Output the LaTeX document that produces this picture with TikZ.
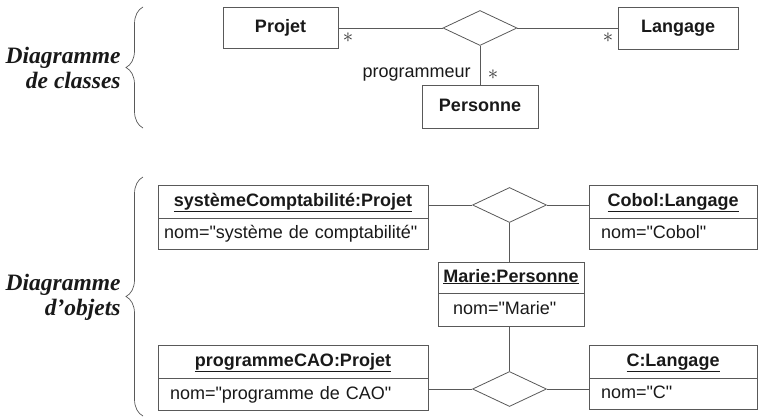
\documentclass[tikz,border=0pt]{standalone}
\usepackage{fontspec}
\setmainfont{Liberation Serif}
\setsansfont{Liberation Sans}
\usepackage{tikz}
\usetikzlibrary{shapes.geometric,decorations.pathreplacing,positioning}
\newcommand{\qq}{\textquotedbl}

\begin{document}
\begin{tikzpicture}[x=1pt,y=-1pt,line width=0.8pt,node distance=0pt]
  \tikzstyle{classe}=[draw=black!65,text=black!90,font=\sffamily\bfseries\fontsize{18}{20}\selectfont,
                      inner sep=0pt,text height=13pt,text depth=4pt]
  \tikzstyle{attribut}=[draw=black!65,text=black!90,font=\sffamily\fontsize{18}{20}\selectfont,
                        inner xsep=12pt,inner ysep=0pt,text height=13pt,text depth=4pt,align=left]
  \tikzstyle{assoc}=[draw=black!65,diamond,minimum width=74pt,minimum height=35pt,inner sep=0pt]
  \tikzstyle{lien}=[draw=black!65]
  \tikzstyle{mult}=[text=black!80,font=\fontsize{20}{20}\selectfont,inner sep=0pt]
  \tikzstyle{titre}=[text=black!90,font=\bfseries\itshape\fontsize{23.5}{25}\selectfont,align=right,inner sep=0pt]
  \tikzstyle{accolade}=[draw=black!65,line width=0.7pt,decorate,decoration={brace,amplitude=17pt}]

  \useasboundingbox (0,0) rectangle (760,418);

  % diagramme de classes
  \node[titre,anchor=east] (tclasses) at (121,68) {Diagramme\\de classes};
  \coordinate (bc1) at (143,128);
  \coordinate (bc2) at (143,7);
  \draw[accolade] (bc1) -- (bc2);

  \node[classe,minimum width=115pt,minimum height=41pt] (projet)   at (280.5,27.5) {Projet};
  \node[classe,minimum width=120pt,minimum height=42pt] (langage)  at (678,28)     {Langage};
  \node[classe,minimum width=116pt,minimum height=43pt] (personne) at (480,106.5)  {Personne};
  \node[assoc] (assocC) at (480,28) {};

  \path[lien] (assocC.west) edge (assocC.west -| projet.east)
              (assocC.east) edge (assocC.east -| langage.west)
              (assocC.south) edge (assocC.south |- personne.north);

  \node[mult] (mprojet)   at (348,38) {$\ast$};
  \node[mult] (mlangage)  at (608,38) {$\ast$};
  \node[mult] (mpersonne) at (493,75) {$\ast$};
  \node[text=black!90,font=\sffamily\fontsize{18}{20}\selectfont,inner sep=0pt,anchor=base east]
       (role) at (471,77) {programmeur};

  % diagramme d'objets
  \node[titre,anchor=east] (tobjets) at (121,297) {Diagramme\\d’objets};
  \coordinate (bo1) at (143,416);
  \coordinate (bo2) at (143,177);
  \draw[accolade] (bo1) -- (bo2);

  \node[classe,minimum width=270pt,minimum height=33pt] (sysC) at (293,201.5) {\underline{systèmeComptabilité:Projet}};
  \node[attribut,inner xsep=6pt,text width=258pt,minimum height=31pt,below=of sysC] (sysCatt) {nom=\qq système de comptabilité\qq};

  \node[classe,minimum width=168pt,minimum height=33pt] (cobol) at (673,201.5) {\underline{Cobol:Langage}};
  \node[attribut,text width=144pt,minimum height=31pt,below=of cobol] (cobolatt) {nom=\qq Cobol\qq};

  \node[classe,minimum width=146pt,minimum height=31pt] (marie) at (511,277.5) {\underline{Marie:Personne}};
  \node[attribut,inner xsep=15pt,text width=116pt,minimum height=33pt,below=of marie] (marieatt) {nom=\qq Marie\qq};

  \node[classe,minimum width=270pt,minimum height=33pt] (cao) at (293,361.5) {\underline{programmeCAO:Projet}};
  \node[attribut,text width=246pt,minimum height=32pt,below=of cao] (caoatt) {nom=\qq programme de CAO\qq};

  \node[classe,minimum width=168pt,minimum height=33pt] (clang) at (673,361.5) {\underline{C:Langage}};
  \node[attribut,text width=144pt,minimum height=31pt,below=of clang] (clangatt) {nom=\qq C\qq};

  \node[assoc] (assocA) at (509.5,205) {};
  \node[assoc] (assocB) at (509.5,389) {};

  \path[lien] (assocA.west) edge (assocA.west -| sysC.east)
              (assocA.east) edge (assocA.east -| cobol.west)
              (assocA.south) edge (assocA.south |- marie.north)
              (assocB.north |- marieatt.south) edge (assocB.north)
              (assocB.west) edge (assocB.west -| caoatt.east)
              (assocB.east) edge (assocB.east -| clangatt.west);
\end{tikzpicture}
\end{document}
